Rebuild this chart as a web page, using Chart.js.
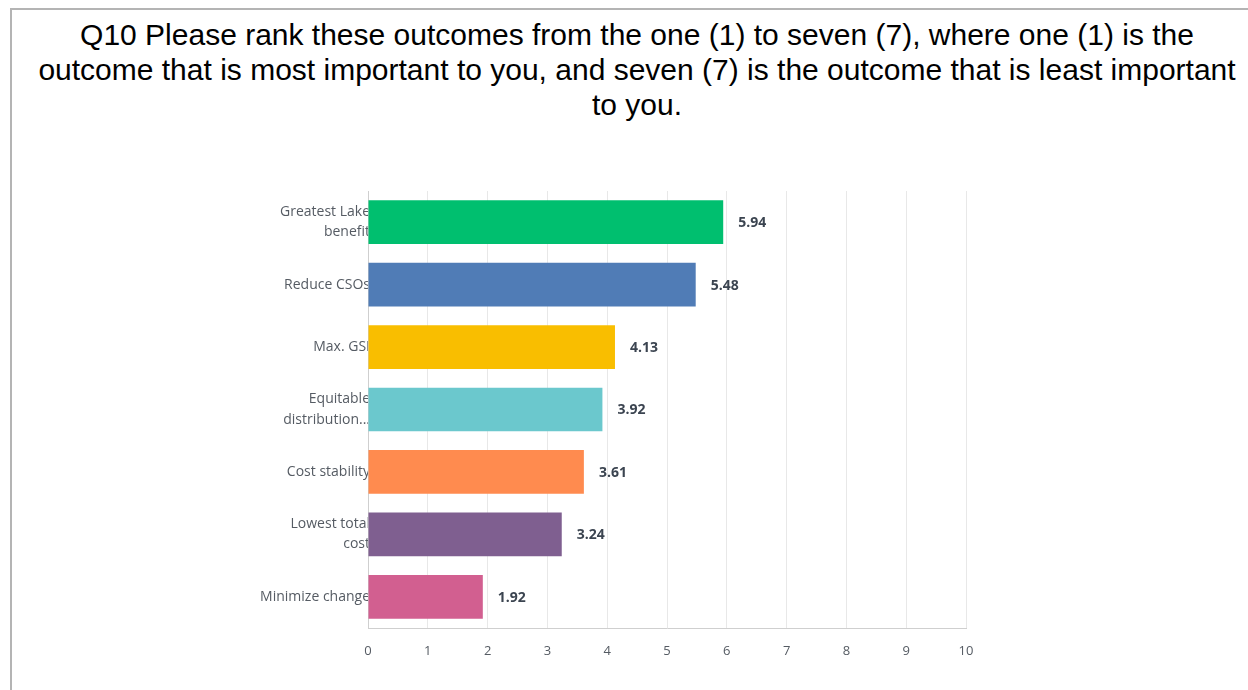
<!DOCTYPE html>
<html>
<head>
<meta charset="utf-8">
<script src="https://cdn.jsdelivr.net/npm/chart.js@4"></script>
<style>
  body { margin: 0; background: #fff; }
  #frame { position: absolute; left: 10px; top: 8px; width: 1260px; height: 700px;
           border-top: 2px solid #b4b4b4; border-left: 2px solid #b4b4b4; }
  #title { position: absolute; left: 10px; top: 17px; width: 1254px; text-align: center;
           font: 30px "Liberation Sans", Arial, sans-serif; line-height: 35px; color: #000;
           white-space: nowrap; }
  #chart { position: absolute; left: 0; top: 0; }
</style>
</head>
<body>
<div id="frame"></div>
<div id="title">Q10 Please rank these outcomes from the one (1) to seven (7), where one (1) is the<br>outcome that is most important to you, and seven (7) is the outcome that is least important<br>to you.</div>
<canvas id="chart" width="1248" height="690"></canvas>
<script>
// Outcomes, average ranking score
const outcomes = [
    ['Greatest Lake', 'benefit'],
    'Reduce CSOs',
    'Max. GSI',
    ['Equitable', 'distribution...'],
    'Cost stability',
    ['Lowest total', 'cost'],
    'Minimize change'
];
const scores = [5.94, 5.48, 4.13, 3.92, 3.61, 3.24, 1.92];
const barColors = ['#00bf6f', '#507cb6', '#f9be00', '#6bc8cd', '#ff8b4f', '#7f5f90', '#d25f90'];
const xTicks = [0, 1, 2, 3, 4, 5, 6, 7, 8, 9, 10];

// write the score next to each bar
const valueLabels = {
    id: 'valueLabels',
    afterDatasetsDraw(chart) {
        const ctx = chart.ctx;
        const meta = chart.getDatasetMeta(0);
        ctx.save();
        ctx.font = 'bold 14px "Open Sans", sans-serif';
        ctx.fillStyle = '#3b4450';
        ctx.textAlign = 'left';
        ctx.textBaseline = 'middle';
        meta.data.forEach((bar, i) => {
            ctx.fillText(scores[i].toFixed(2), bar.x + 15, bar.y + 1);
        });
        ctx.restore();
    }
};

new Chart(document.getElementById('chart'), {
    type: 'bar',
    data: {
        labels: outcomes,
        datasets: [{
            data: scores,
            backgroundColor: barColors,
            barPercentage: 0.7,
            categoryPercentage: 1.0
        }]
    },
    options: {
        indexAxis: 'y',
        responsive: false,
        animation: false,
        devicePixelRatio: 1,
        layout: { padding: { top: 191, right: 282, bottom: 0, left: 0 } },
        plugins: { legend: { display: false }, tooltip: { enabled: false } },
        scales: {
            x: {
                min: 0,
                max: 10,
                afterBuildTicks(scale) { scale.ticks = xTicks.map(v => ({ value: v })); },
                afterFit(scale) { scale.height = 62; },
                grid: { color: '#e8e8e8', drawTicks: false },
                border: { color: '#cfcfcf' },
                ticks: { padding: 15, color: '#555b63', font: { family: 'Open Sans', size: 13 } }
            },
            y: {
                afterFit(scale) { scale.width = 368; },
                grid: { display: false, drawTicks: false },
                border: { color: '#cfcfcf' },
                ticks: {
                    z: 1,
                    padding: -2,
                    color: '#555b63',
                    font: { family: 'Open Sans', size: 14, lineHeight: 1.45 }
                }
            }
        }
    },
    plugins: [valueLabels]
});
</script>
</body>
</html>
